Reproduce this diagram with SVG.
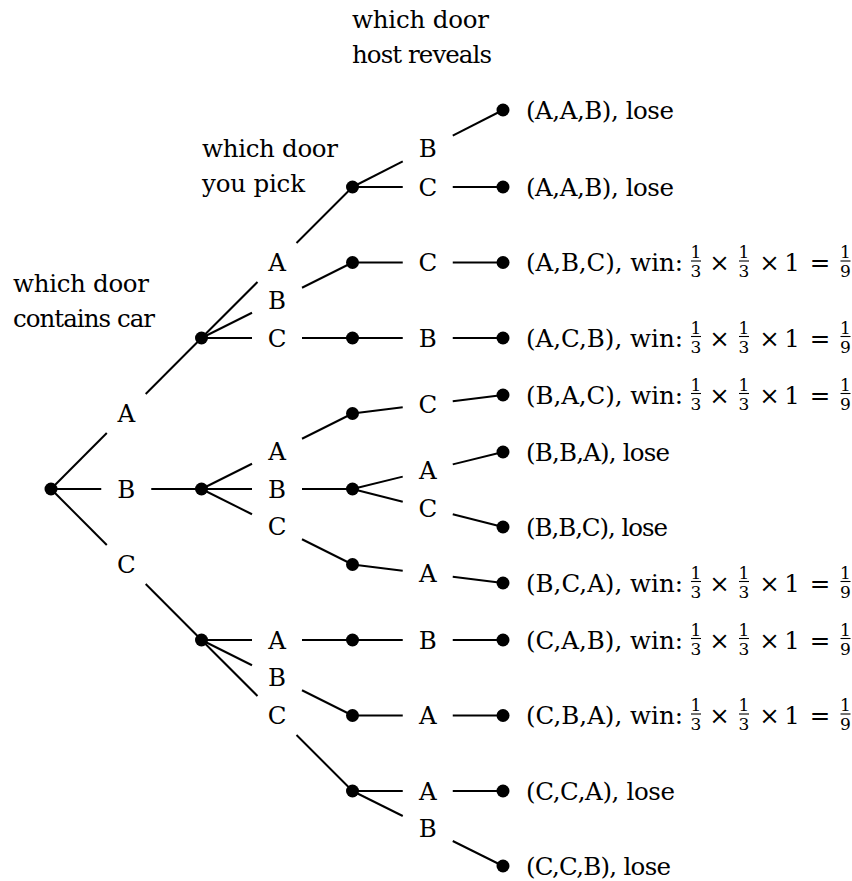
<svg xmlns="http://www.w3.org/2000/svg" xmlns:xlink="http://www.w3.org/1999/xlink" width="852" height="881" viewBox="0 0 852 881">
<style>
text{font-family:"DejaVu Serif","Liberation Serif",serif;font-size:24.5px;fill:#000}
.lbl{text-anchor:middle}
.sm{font-size:17px;text-anchor:middle}
.op{text-anchor:middle}
line{stroke:#000;stroke-width:2;stroke-linecap:butt}
.bar{stroke-width:1.1}
circle{fill:#000}
</style>
<defs>
<g id="math">
<text class="sm" x="696" y="-4.5">1</text><line class="bar" x1="691" y1="-1.5" x2="701" y2="-1.5"/><text class="sm" x="696" y="14.5">3</text>
<text class="op" x="719.5" y="8.5">×</text>
<text class="sm" x="744" y="-4.5">1</text><line class="bar" x1="739" y1="-1.5" x2="749" y2="-1.5"/><text class="sm" x="744" y="14.5">3</text>
<text class="op" x="769.5" y="8.5">×</text>
<text class="op" x="792" y="8.5">1</text>
<text class="op" x="820" y="8.5">=</text>
<text class="sm" x="845.5" y="-4.5">1</text><line class="bar" x1="840.5" y1="-1.5" x2="850.5" y2="-1.5"/><text class="sm" x="845.5" y="14.5">9</text>
</g>
</defs>
<rect width="852" height="881" fill="#fff"/>
<g id="headers">
<text x="13" y="292" textLength="136">which door</text>
<text x="13" y="327" textLength="142">contains car</text>
<text x="202" y="157" textLength="136">which door</text>
<text x="202" y="192" textLength="103">you pick</text>
<text x="352" y="28" textLength="137">which door</text>
<text x="352" y="63" textLength="140">host reveals</text>
</g>
<g id="connectors">
<line x1="51" y1="489" x2="106.8" y2="433"/><line x1="145.7" y1="394" x2="201.5" y2="338"/>
<line x1="51" y1="489" x2="101.25" y2="489"/><line x1="151.25" y1="489" x2="201.5" y2="489"/>
<line x1="51" y1="489" x2="106.8" y2="545"/><line x1="145.7" y1="584" x2="201.5" y2="640"/>
<line x1="201.5" y1="338" x2="257.5" y2="282"/><line x1="296.5" y1="243" x2="352.5" y2="187"/>
<line x1="201.5" y1="338" x2="252" y2="312.75"/><line x1="302" y1="287.75" x2="352.5" y2="262.5"/>
<line x1="201.5" y1="338" x2="252" y2="338"/><line x1="302" y1="338" x2="352.5" y2="338"/>
<line x1="201.5" y1="489" x2="252" y2="463.75"/><line x1="302" y1="438.75" x2="352.5" y2="413.5"/>
<line x1="201.5" y1="489" x2="252" y2="489"/><line x1="302" y1="489" x2="352.5" y2="489"/>
<line x1="201.5" y1="489" x2="252" y2="514.25"/><line x1="302" y1="539.25" x2="352.5" y2="564.5"/>
<line x1="201.5" y1="640" x2="252" y2="640"/><line x1="302" y1="640" x2="352.5" y2="640"/>
<line x1="201.5" y1="640" x2="252" y2="665.25"/><line x1="302" y1="690.25" x2="352.5" y2="715.5"/>
<line x1="201.5" y1="640" x2="257.5" y2="696"/><line x1="296.5" y1="735" x2="352.5" y2="791"/>
<line x1="352.5" y1="187" x2="402.75" y2="161.3"/><line x1="452.75" y1="135.7" x2="503" y2="110"/>
<line x1="352.5" y1="187" x2="402.75" y2="187"/><line x1="452.75" y1="187" x2="503" y2="187"/>
<line x1="352.5" y1="262.5" x2="402.75" y2="262.5"/><line x1="452.75" y1="262.5" x2="503" y2="262.5"/>
<line x1="352.5" y1="338" x2="402.75" y2="338"/><line x1="452.75" y1="338" x2="503" y2="338"/>
<line x1="352.5" y1="413.5" x2="402.75" y2="407.3"/><line x1="452.75" y1="401.2" x2="503" y2="395"/>
<line x1="352.5" y1="489" x2="402.75" y2="476.65"/><line x1="452.75" y1="464.35" x2="503" y2="452"/>
<line x1="352.5" y1="489" x2="402.75" y2="501.7"/><line x1="452.75" y1="514.3" x2="503" y2="527"/>
<line x1="352.5" y1="564.5" x2="402.75" y2="570.7"/><line x1="452.75" y1="576.8" x2="503" y2="583"/>
<line x1="352.5" y1="640" x2="402.75" y2="640"/><line x1="452.75" y1="640" x2="503" y2="640"/>
<line x1="352.5" y1="715.5" x2="402.75" y2="715.5"/><line x1="452.75" y1="715.5" x2="503" y2="715.5"/>
<line x1="352.5" y1="791" x2="402.75" y2="791"/><line x1="452.75" y1="791" x2="503" y2="791"/>
<line x1="352.5" y1="791" x2="402.75" y2="816"/><line x1="452.75" y1="841" x2="503" y2="866"/>
</g>
<g id="edge-labels">
<text class="lbl" x="126.25" y="422">A</text>
<text class="lbl" x="126.25" y="497.5">B</text>
<text class="lbl" x="126.25" y="573">C</text>
<text class="lbl" x="277" y="271">A</text>
<text class="lbl" x="277" y="308.75">B</text>
<text class="lbl" x="277" y="346.5">C</text>
<text class="lbl" x="277" y="459.75">A</text>
<text class="lbl" x="277" y="497.5">B</text>
<text class="lbl" x="277" y="535.25">C</text>
<text class="lbl" x="277" y="648.5">A</text>
<text class="lbl" x="277" y="686.25">B</text>
<text class="lbl" x="277" y="724">C</text>
<text class="lbl" x="427.75" y="157">B</text>
<text class="lbl" x="427.75" y="195.5">C</text>
<text class="lbl" x="427.75" y="271">C</text>
<text class="lbl" x="427.75" y="346.5">B</text>
<text class="lbl" x="427.75" y="412.75">C</text>
<text class="lbl" x="427.75" y="479">A</text>
<text class="lbl" x="427.75" y="516.5">C</text>
<text class="lbl" x="427.75" y="582.25">A</text>
<text class="lbl" x="427.75" y="648.5">B</text>
<text class="lbl" x="427.75" y="724">A</text>
<text class="lbl" x="427.75" y="799.5">A</text>
<text class="lbl" x="427.75" y="837">B</text>
</g>
<g id="root"><circle cx="51" cy="489" r="6.5"/></g>
<g id="n-A"><circle cx="201.5" cy="338" r="6.5"/></g>
<g id="n-B"><circle cx="201.5" cy="489" r="6.5"/></g>
<g id="n-C"><circle cx="201.5" cy="640" r="6.5"/></g>
<g id="n-AA"><circle cx="352.5" cy="187" r="6.5"/></g>
<g id="n-AB"><circle cx="352.5" cy="262.5" r="6.5"/></g>
<g id="n-AC"><circle cx="352.5" cy="338" r="6.5"/></g>
<g id="n-BA"><circle cx="352.5" cy="413.5" r="6.5"/></g>
<g id="n-BB"><circle cx="352.5" cy="489" r="6.5"/></g>
<g id="n-BC"><circle cx="352.5" cy="564.5" r="6.5"/></g>
<g id="n-CA"><circle cx="352.5" cy="640" r="6.5"/></g>
<g id="n-CB"><circle cx="352.5" cy="715.5" r="6.5"/></g>
<g id="n-CC"><circle cx="352.5" cy="791" r="6.5"/></g>
<g id="leaf-AAB"><circle cx="503" cy="110" r="6.5"/><text x="526" y="118.5" textLength="148">(A,A,B), lose</text></g>
<g id="leaf-AAC"><circle cx="503" cy="187" r="6.5"/><text x="526" y="195.5" textLength="148">(A,A,B), lose</text></g>
<g id="leaf-ABC"><circle cx="503" cy="262.5" r="6.5"/><text x="526" y="271" textLength="157">(A,B,C), win:</text><use xlink:href="#math" href="#math" transform="translate(0,262.5)"/></g>
<g id="leaf-ACB"><circle cx="503" cy="338" r="6.5"/><text x="526" y="346.5" textLength="157">(A,C,B), win:</text><use xlink:href="#math" href="#math" transform="translate(0,338)"/></g>
<g id="leaf-BAC"><circle cx="503" cy="395" r="6.5"/><text x="526" y="403.5" textLength="157">(B,A,C), win:</text><use xlink:href="#math" href="#math" transform="translate(0,395)"/></g>
<g id="leaf-BBA"><circle cx="503" cy="452" r="6.5"/><text x="526" y="460.5" textLength="144">(B,B,A), lose</text></g>
<g id="leaf-BBC"><circle cx="503" cy="527" r="6.5"/><text x="526" y="535.5" textLength="142">(B,B,C), lose</text></g>
<g id="leaf-BCA"><circle cx="503" cy="583" r="6.5"/><text x="526" y="591.5" textLength="157">(B,C,A), win:</text><use xlink:href="#math" href="#math" transform="translate(0,583)"/></g>
<g id="leaf-CAB"><circle cx="503" cy="640" r="6.5"/><text x="526" y="648.5" textLength="157">(C,A,B), win:</text><use xlink:href="#math" href="#math" transform="translate(0,640)"/></g>
<g id="leaf-CBA"><circle cx="503" cy="715.5" r="6.5"/><text x="526" y="724" textLength="157">(C,B,A), win:</text><use xlink:href="#math" href="#math" transform="translate(0,715.5)"/></g>
<g id="leaf-CCA"><circle cx="503" cy="791" r="6.5"/><text x="526" y="799.5" textLength="149">(C,C,A), lose</text></g>
<g id="leaf-CCB"><circle cx="503" cy="866" r="6.5"/><text x="526" y="874.5" textLength="145">(C,C,B), lose</text></g>
</svg>
